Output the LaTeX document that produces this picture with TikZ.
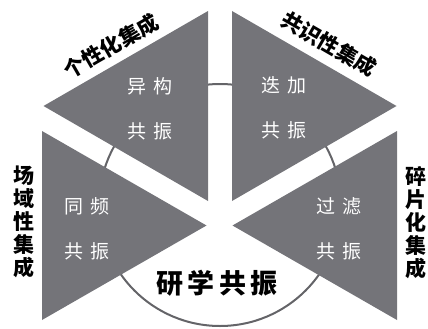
\documentclass[tikz,border=0pt]{standalone}
\usepackage{fontspec}
\newfontfamily\cjk{Noto Sans CJK SC}
\usepackage{tikz}
\definecolor{facetgray}{RGB}{116,116,121}
\definecolor{ringgray}{RGB}{100,100,104}

\begin{document}
\begin{tikzpicture}[
        x=1pt, y=-1pt,
        every node/.style={font=\cjk},
        facet/.style={fill=facetgray, draw=none},
        inner/.style={text=white, inner sep=0pt, align=center, font=\cjk\fontsize{19}{45}\selectfont},
        outer/.style={inner sep=0pt, align=center, font=\cjk\bfseries\fontsize{21}{23}\selectfont},
        core/.style={inner sep=0pt, font=\cjk\bfseries\fontsize{27}{30}\selectfont},
        ring/.style={draw=ringgray, line width=2pt}
    ]
    \useasboundingbox (0,0) rectangle (428,329);

    % Ring behind the triangles
    \draw [ring] (220,205) circle [radius=121];

    % Triangles
    \fill [facet] (208,11) -- (208,201) -- (43.5,106) -- cycle;
    \fill [facet] (232,11) -- (232,201) -- (396.5,106) -- cycle;
    \fill [facet] (42,131) -- (42,320) -- (206.5,225.5) -- cycle;
    \fill [facet] (397,131) -- (397,320) -- (232.5,225.5) -- cycle;

    % Inner texts
    \node (yigou) [inner] at (150,108.5) {异\hspace{.4em}构\\共\hspace{.4em}振};
    \node (diejia) [inner] at (284,107.5) {迭\hspace{.4em}加\\共\hspace{.4em}振};
    \node (tongpin) [inner] at (87,228.5) {同\hspace{.4em}频\\共\hspace{.4em}振};
    \node (guolv) [inner] at (339,228.5) {过\hspace{.4em}滤\\共\hspace{.4em}振};

    % Outer labels
    \node (gexing) [outer, rotate=30] at (111,46) {个性化集成};
    \node (gongshi) [outer, rotate=-30] at (329,44) {共识性集成};
    \node (changyu) [outer] at (23.5,222) {场\\域\\性\\集\\成};
    \node (suipian) [outer] at (416,223) {碎\\片\\化\\集\\成};

    % Centre
    \node (yanxue) [core] at (217,283) {研\hspace{.15em}学\hspace{.15em}共\hspace{.15em}振};

\end{tikzpicture}
\end{document}
